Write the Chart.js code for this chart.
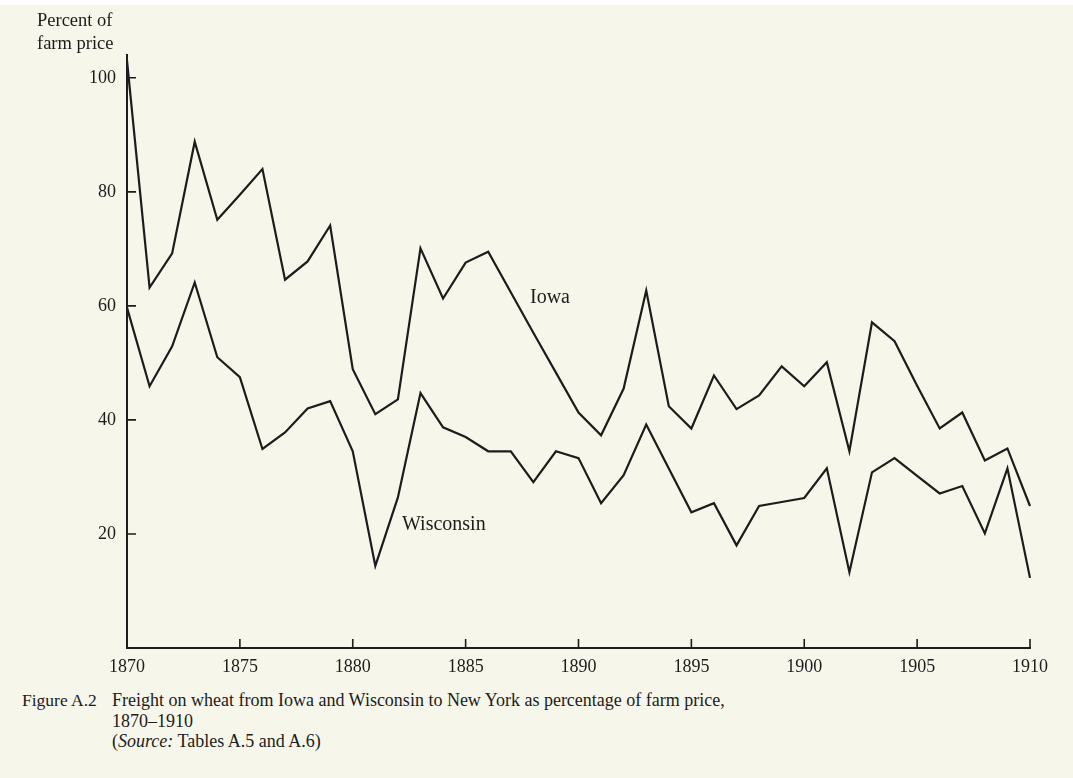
<!DOCTYPE html>
<html>
<head>
<meta charset="utf-8">
<script src="https://cdn.jsdelivr.net/npm/chart.js@4.4.1/dist/chart.umd.min.js"></script>
<style>
  html, body { margin: 0; padding: 0; }
  body {
    width: 1073px; height: 778px; overflow: hidden; position: relative;
    background: #f7f6ea; font-family: "Liberation Serif", serif; color: #1c1c1c;
  }
  .topband { position: absolute; left: 0; top: 0; width: 1073px; height: 5px; background: #fff; }
  #wrap { position: absolute; left: 0; top: 0; width: 1073px; height: 680px; }
  .ylabel { position: absolute; left: 37px; top: 9px; font-size: 18.5px; line-height: 23px; }
  .series-label { position: absolute; font-size: 20px; line-height: 23px; }
  .caption { position: absolute; top: 690px; font-size: 18px; line-height: 20.5px; white-space: nowrap; }
</style>
</head>
<body>
<div class="topband"></div>
<div id="wrap"><canvas id="chart"></canvas></div>
<div class="ylabel">Percent of<br>farm price</div>
<div class="series-label" style="left:530px; top:285px;">Iowa</div>
<div class="series-label" style="left:402px; top:512px;">Wisconsin</div>
<div class="caption" style="left:22px; font-size:17.5px;">Figure A.2</div>
<div class="caption" style="left:112px;">Freight on wheat from Iowa and Wisconsin to New York as percentage of farm price,<br>1870–1910<br>(<i>Source:</i> Tables A.5 and A.6)</div>
<script>
  const years = [1870, 1871, 1872, 1873, 1874, 1875, 1876, 1877, 1878, 1879,
                 1880, 1881, 1882, 1883, 1884, 1885, 1886, 1887, 1888, 1889,
                 1890, 1891, 1892, 1893, 1894, 1895, 1896, 1897, 1898, 1899,
                 1900, 1901, 1902, 1903, 1904, 1905, 1906, 1907, 1908, 1909, 1910];

  const iowa = [103, 63.2, 69.2, 88.8, 75.1, 79.5, 84, 64.6, 67.8, 74.1,
                48.9, 41, 43.6, 70.1, 61.3, 67.6, 69.5, 62.4, 55.3, 48.3,
                41.3, 37.3, 45.5, 62.7, 42.4, 38.5, 47.8, 41.9, 44.3, 49.4,
                45.9, 50.1, 34.5, 57.1, 53.8, 46, 38.5, 41.3, 32.9, 35, 24.9];

  const wisconsin = [59.7, 45.9, 52.9, 64.1, 51, 47.5, 34.9, 37.8, 42, 43.3,
                     34.5, 14.4, 26.4, 44.7, 38.7, 37, 34.5, 34.5, 29.1, 34.5,
                     33.3, 25.4, 30.3, 39.2, 31.5, 23.8, 25.4, 18, 24.9, 25.6,
                     26.3, 31.5, 13.3, 30.8, 33.3, 30.2, 27.1, 28.4, 20.1, 31.5, 12.3];

  const xTicks = [1870, 1875, 1880, 1885, 1890, 1895, 1900, 1905, 1910];
  const yTicks = [20, 40, 60, 80, 100];

  const INK = '#1c1c1c';
  const FONT = { family: '"Liberation Serif", serif', size: 18 };

  // tick marks point inward in the original, so draw them ourselves
  const inwardTicks = {
    id: 'inwardTicks',
    afterDraw(chart) {
      const { ctx, chartArea, scales } = chart;
      ctx.save();
      ctx.strokeStyle = INK;
      ctx.lineWidth = 1.6;
      ctx.beginPath();
      yTicks.forEach(v => {
        const y = scales.y.getPixelForValue(v);
        ctx.moveTo(chartArea.left, y);
        ctx.lineTo(chartArea.left + 9, y);
      });
      xTicks.slice(1).forEach(v => {
        const x = scales.x.getPixelForValue(v);
        ctx.moveTo(x, chartArea.bottom);
        ctx.lineTo(x, chartArea.bottom - 9);
      });
      ctx.stroke();
      ctx.restore();
    }
  };

  const toPoints = vals => vals.map((v, i) => ({ x: years[i], y: v }));

  new Chart(document.getElementById('chart'), {
    type: 'line',
    data: {
      datasets: [
        { label: 'Iowa', data: toPoints(iowa), borderColor: INK, borderWidth: 2.2, pointRadius: 0, tension: 0, clip: false },
        { label: 'Wisconsin', data: toPoints(wisconsin), borderColor: INK, borderWidth: 2.2, pointRadius: 0, tension: 0, clip: false }
      ]
    },
    options: {
      responsive: true, maintainAspectRatio: false, animation: false,
      layout: { padding: { top: 55, right: 43, bottom: 0, left: 0 } },
      plugins: { legend: { display: false }, tooltip: { enabled: false } },
      scales: {
        x: {
          type: 'linear', min: 1870, max: 1910,
          afterFit: s => { s.height = 32; },
          afterBuildTicks: s => { s.ticks = xTicks.map(v => ({ value: v })); },
          grid: { display: true, drawOnChartArea: false, drawTicks: false },
          border: { display: true, color: INK, width: 2 },
          ticks: { color: INK, font: FONT, padding: 8, maxRotation: 0, autoSkip: false, callback: v => String(v) }
        },
        y: {
          min: 0, max: 104,
          afterFit: s => { s.width = 127; },
          afterBuildTicks: s => { s.ticks = yTicks.map(v => ({ value: v })); },
          grid: { display: true, drawOnChartArea: false, drawTicks: false },
          border: { display: true, color: INK, width: 2 },
          ticks: { color: INK, font: FONT, padding: 11, callback: v => String(v) }
        }
      }
    },
    plugins: [inwardTicks]
  });
</script>
</body>
</html>
